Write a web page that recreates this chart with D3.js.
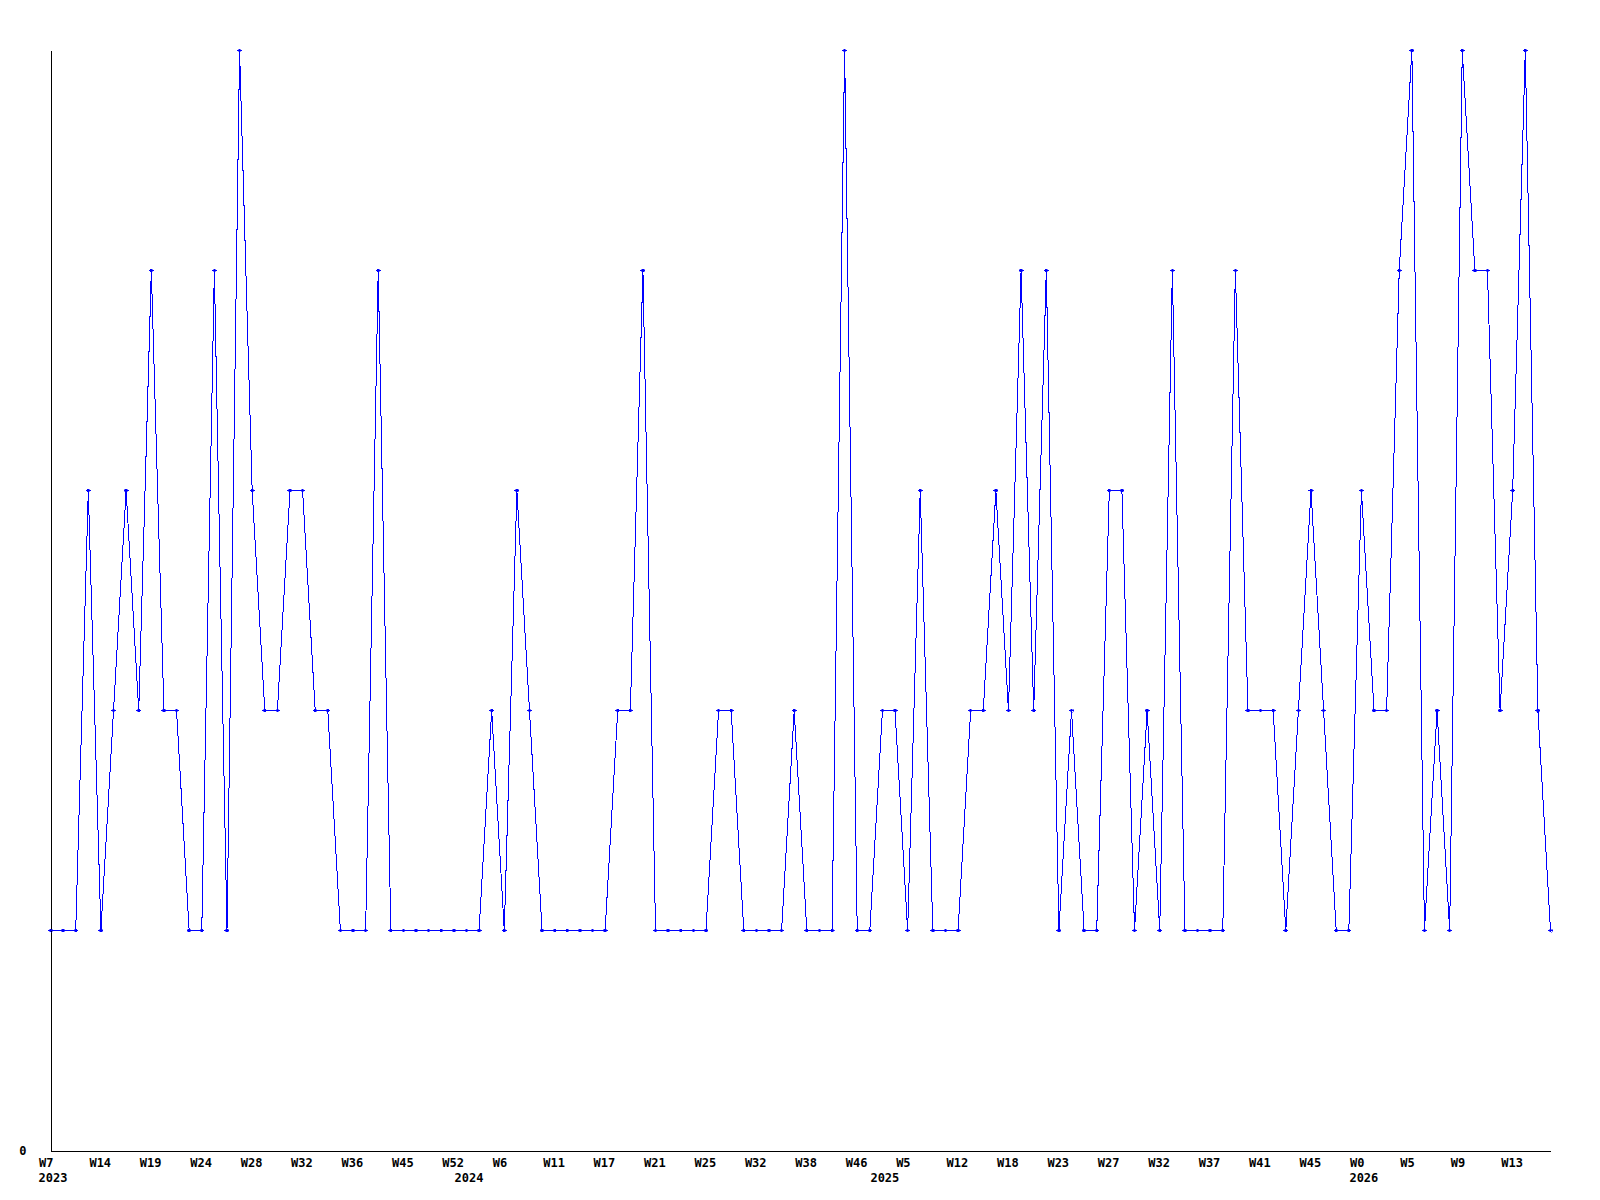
<!DOCTYPE html>
<html>
<head>
<meta charset="utf-8">
<script src="https://cdn.jsdelivr.net/npm/d3@7"></script>
<style>
  body { margin: 0; background: #fff; }
  svg { display: block; }
  .axis text { font-family: "DejaVu Sans Mono", monospace; font-size: 12px; font-weight: bold; fill: #000; }
</style>
</head>
<body>
<div id="chart"></div>
<script>
// weekly counts, one per point
var values = [
  1, 1, 1, 3, 1, 2, 3, 2, 4, 2, 2, 1, 1, 4, 1, 5, 3, 2, 2, 3,
  3, 2, 2, 1, 1, 1, 4, 1, 1, 1, 1, 1, 1, 1, 1, 2, 1, 3, 2, 1,
  1, 1, 1, 1, 1, 2, 2, 4, 1, 1, 1, 1, 1, 2, 2, 1, 1, 1, 1, 2,
  1, 1, 1, 5, 1, 1, 2, 2, 1, 3, 1, 1, 1, 2, 2, 3, 2, 4, 2, 4,
  1, 2, 1, 1, 3, 3, 1, 2, 1, 4, 1, 1, 1, 1, 4, 2, 2, 2, 1, 2,
  3, 2, 1, 1, 3, 2, 2, 4, 5, 1, 2, 1, 5, 4, 4, 2, 3, 5, 2, 1
];

// one label every 4th point
var tickLabels = [
  'W7', 'W14', 'W19', 'W24', 'W28', 'W32', 'W36', 'W45', 'W52', 'W6',
  'W11', 'W17', 'W21', 'W25', 'W32', 'W38', 'W46', 'W5', 'W12', 'W18',
  'W23', 'W27', 'W32', 'W37', 'W41', 'W45', 'W0', 'W5', 'W9', 'W13'
];

// first point of each year
var yearLabels = ['2023', '2024', '2025', '2026'];
var yearStart = [0, 33, 66, 104];

var width = 1600, height = 1200;

var svg = d3.select('#chart').append('svg')
  .attr('width', width)
  .attr('height', height);

var x = d3.scaleLinear()
  .domain([0, values.length - 1])
  .range([50.5, 1550.5]);

var y = d3.scaleLinear()
  .domain([0, 5])
  .range([1150.5, 50.5]);

var xAxis = d3.axisBottom(x)
  .tickValues(d3.range(0, values.length, 4))
  .tickFormat(function(d) { return tickLabels[d / 4]; })
  .tickSize(0)
  .tickSizeOuter(0)
  .tickPadding(8);

var gx = svg.append('g')
  .attr('class', 'axis')
  .attr('transform', 'translate(0,' + y(0) + ')')
  .call(xAxis);
gx.select('.domain').attr('stroke', '#000').attr('shape-rendering', 'crispEdges');
gx.selectAll('.tick text').attr('text-anchor', 'start').attr('dx', -12);

gx.selectAll('.year')
  .data(yearLabels)
  .enter()
  .append('text')
  .attr('class', 'year')
  .attr('text-anchor', 'start')
  .attr('x', function(d, i) { return x(yearStart[i]) - 12; })
  .attr('y', 31)
  .text(function(d) { return d; });

var yAxis = d3.axisLeft(y)
  .tickValues([0])
  .tickFormat(d3.format('d'))
  .tickSize(0)
  .tickSizeOuter(0)
  .tickPadding(24);

var gy = svg.append('g')
  .attr('class', 'axis')
  .attr('transform', 'translate(' + x(0) + ',0)')
  .call(yAxis);
gy.select('.domain').attr('stroke', '#000').attr('shape-rendering', 'crispEdges');

var line = d3.line()
  .x(function(d, i) { return x(i); })
  .y(function(d) { return y(d); });

svg.append('path')
  .datum(values)
  .attr('d', line)
  .attr('fill', 'none')
  .attr('stroke', '#0000ff')
  .attr('stroke-width', 1)
  .attr('shape-rendering', 'crispEdges');

svg.selectAll('.dot')
  .data(values)
  .enter()
  .append('path')
  .attr('class', 'dot')
  .attr('d', function(d, i) {
    var cx = x(i), cy = y(d);
    return 'M' + (cx - 2.5) + ',' + cy + 'L' + cx + ',' + (cy - 1.5) +
      'L' + (cx + 2.5) + ',' + cy + 'L' + cx + ',' + (cy + 1.5) + 'Z';
  })
  .attr('fill', '#0000ff')
  .attr('stroke', '#0000ff')
  .attr('stroke-width', 0.5)
  .attr('shape-rendering', 'crispEdges');
</script>
</body>
</html>
